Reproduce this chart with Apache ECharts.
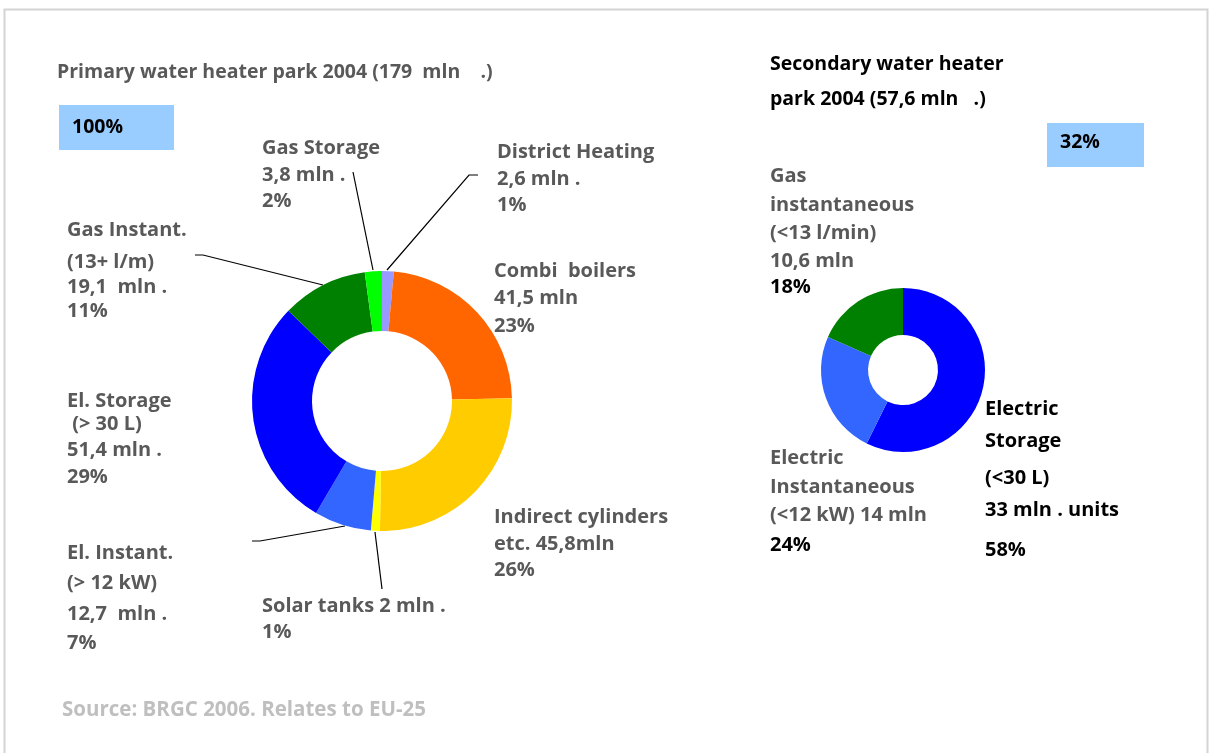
<!DOCTYPE html>
<html><head><meta charset="utf-8">
<script src="https://cdn.jsdelivr.net/npm/echarts@6/dist/echarts.min.js"></script>
<style>html,body{margin:0;padding:0;background:#fff}#c{width:1211px;height:753px}</style>
</head><body><div id="c"></div>
<script>
// ---- data ----
const primaryNames = ['District Heating','Combi boilers','Indirect cylinders','Solar tanks','El. Instant.','El. Storage','Gas Instant.','Gas Storage'];
const primaryValues = [2.6, 41.5, 45.8, 2, 12.7, 51.4, 19.1, 3.8];
const primaryColors = ['#9999FF','#FF6600','#FFCC00','#FFFF00','#3366FF','#0000FF','#008000','#00FF00'];
const secondaryNames = ['Electric Storage','Electric Instantaneous','Gas instantaneous'];
const secondaryValues = [33, 14, 10.6];
const secondaryColors = ['#0000FF','#3366FF','#008000'];
const primaryTitle = 'Primary water heater park 2004 (179  mln    .)';
const secondaryTitle = ['Secondary water heater','park 2004 (57,6 mln   .)'];
const primaryShare = '100%';
const secondaryShare = '32%';
const sourceText = 'Source: BRGC 2006. Relates to EU-25';
// label texts
const lblGasStorage = ['Gas Storage','3,8 mln .','2%'];
const lblDistrict = ['District Heating','2,6 mln .','1%'];
const lblCombi = ['Combi  boilers','41,5 mln','23%'];
const lblIndirect = ['Indirect cylinders','etc. 45,8mln','26%'];
const lblSolar = ['Solar tanks 2 mln .','1%'];
const lblElInstant = ['El. Instant.','(> 12 kW)','12,7  mln .','7%'];
const lblElStorage = ['El. Storage',' (> 30 L)','51,4 mln .','29%'];
const lblGasInstant = ['Gas Instant.','(13+ l/m)','19,1  mln .','11%'];
const lblSecGas = ['Gas','instantaneous','(<13 l/min)','10,6 mln','18%'];
const lblSecElStor = ['Electric','Storage','(<30 L)','33 mln . units','58%'];
const lblSecElInst = ['Electric','Instantaneous','(<12 kW) 14 mln','24%'];

const FONT = '"Open Sans", "Noto Sans", sans-serif';
const GRAY = '#595959';
const chart = echarts.init(document.getElementById('c'), null, {renderer:'canvas'});

const graphics = [];
function addLines(x, ys, lines, colors, size) {
  lines.forEach((t, i) => {
    graphics.push({type:'text', x:x, y:ys[i], style:{text:t, fill:Array.isArray(colors)?colors[i]:colors,
      fontFamily:FONT, fontWeight:'bold', fontSize:(size||20), textVerticalAlign:'middle', textAlign:'left'}});
  });
}
function addLine(pts) {
  graphics.push({type:'polyline', shape:{points:pts}, style:{stroke:'#000', lineWidth:1.2, fill:null}});
}
// frame
graphics.push({type:'rect', shape:{x:4.5, y:9.5, width:1203, height:760}, style:{fill:null, stroke:'#D4D4D4', lineWidth:2}});
// titles
addLines(57, [72], [primaryTitle], GRAY, 19.5);
addLines(770, [64, 99], secondaryTitle, '#000', 19.5);
// share boxes
graphics.push({type:'rect', shape:{x:59, y:105, width:115, height:45}, style:{fill:'#99CCFF'}});
addLines(72, [127], [primaryShare], '#000', 19.5);
graphics.push({type:'rect', shape:{x:1047, y:123, width:97, height:44}, style:{fill:'#99CCFF'}});
addLines(1060, [142], [secondaryShare], '#000', 19.5);
// primary labels
addLines(262, [148,175,201], lblGasStorage, GRAY);
addLines(497, [152,179,205], lblDistrict, GRAY);
addLines(494, [271,298,326], lblCombi, GRAY);
addLines(494, [517,544,570], lblIndirect, GRAY);
addLines(262, [606,632], lblSolar, GRAY);
addLines(67, [553,583,614,643], lblElInstant, GRAY);
addLines(67, [401,424,450,477], lblElStorage, GRAY);
addLines(67, [230,262,287,311], lblGasInstant, GRAY);
// secondary labels
addLines(770, [176,205,233,261,287], lblSecGas, [GRAY,GRAY,GRAY,GRAY,'#000']);
addLines(985, [409,441,478,510,550], lblSecElStor, '#000');
addLines(770, [458,487,515,545], lblSecElInst, [GRAY,GRAY,GRAY,'#000']);
// source
addLines(62, [710], [sourceText], '#BFBFBF', 20.5);
// leader lines
addLine([[353,172],[373,270]]);
addLine([[478,175],[469,175],[387,270]]);
addLine([[195,255],[203,255],[323,285]]);
addLine([[252,541],[260,541],[345,526]]);
addLine([[375,532],[382,589]]);

chart.setOption({
  animation:false,
  backgroundColor:'#fff',
  series:[
    {type:'pie', center:[382,401], radius:[70,130], startAngle:90, clockwise:true,
     label:{show:false}, labelLine:{show:false}, silent:true, z:2,
     itemStyle:{borderWidth:0},
     data:primaryNames.map((n,i)=>({name:n, value:primaryValues[i], itemStyle:{color:primaryColors[i]}}))},
    {type:'pie', center:[903,370], radius:[35,82], startAngle:90, clockwise:true,
     label:{show:false}, labelLine:{show:false}, silent:true, z:2,
     itemStyle:{borderWidth:0},
     data:secondaryNames.map((n,i)=>({name:n, value:secondaryValues[i], itemStyle:{color:secondaryColors[i]}}))}
  ],
  graphic:graphics
});
</script></body></html>
